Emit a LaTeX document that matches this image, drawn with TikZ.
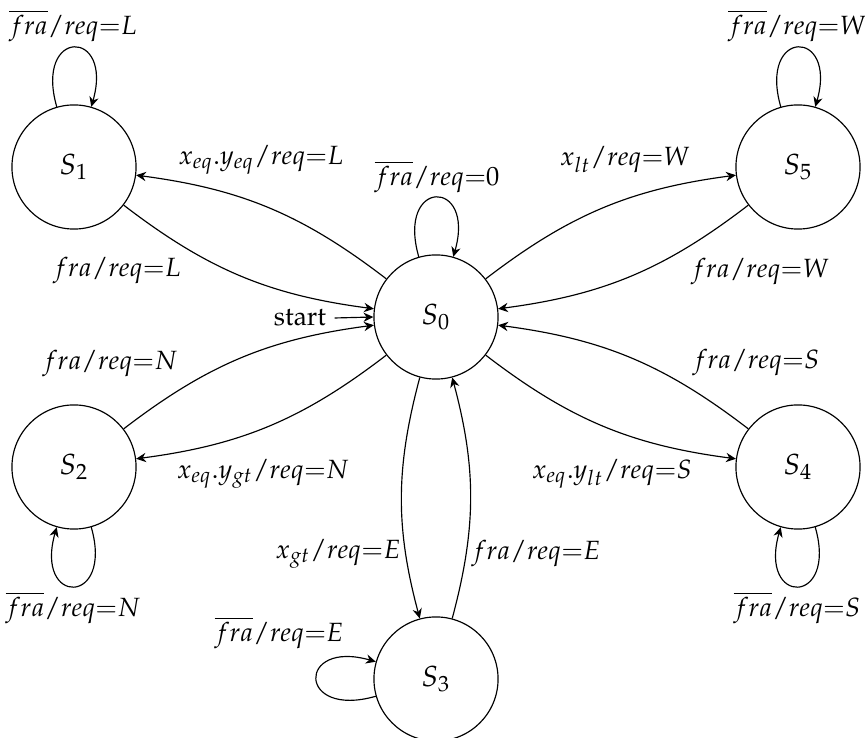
\documentclass[tikz,border=0pt]{standalone}
\usepackage[T1]{fontenc}
\usepackage{mathpazo}
\usetikzlibrary{arrows.meta}
\DeclareMathSizes{9.1}{9.1}{7.3}{6}
\begin{document}
\begin{tikzpicture}[x=0.3448pt,y=-0.3448pt,
  every node/.style={font=\fontsize{9.1pt}{11pt}\selectfont},
  >={Stealth[length=3.4pt,width=3.2pt,inset=1.1pt]},
  state/.style={draw,circle,minimum size=42.8pt,inner sep=0pt,line width=0.4pt,font=\fontsize{10pt}{12pt}\selectfont},
  lab/.style={inner sep=0pt},
  every edge/.style={draw,->,line width=0.4pt},
  myloop/.style={looseness=6.1,min distance=1pt}]
\useasboundingbox (0,0) rectangle (865,738);
\node[state] (S0) at (436,317) {$S_0$};
\node[state] (S1) at (74,167) {$S_1$};
\node[state] (S2) at (74,467) {$S_2$};
\node[state] (S3) at (436,679) {$S_3$};
\node[state] (S4) at (798,467) {$S_4$};
\node[state] (S5) at (798,167) {$S_5$};
\node[lab] (st) at (300,318) {start};
\draw[->] (st.east) ++(8,0) coordinate (stA) (stA) -- (S0.west);

\path (S0) edge[out=106,in=74,myloop] (S0)
      (S1) edge[out=106,in=74,myloop] (S1)
      (S5) edge[out=106,in=74,myloop] (S5)
      (S2) edge[out=286,in=254,myloop] (S2)
      (S4) edge[out=286,in=254,myloop] (S4)
      (S3) edge[out=196,in=164,myloop] (S3);

\path (S0) edge[bend right=15] (S1)
      (S1) edge[bend right=15] (S0)
      (S0) edge[bend left=15] (S2)
      (S2) edge[bend left=15] (S0)
      (S0) edge[bend left=15] (S5)
      (S5) edge[bend left=15] (S0)
      (S0) edge[bend right=15] (S4)
      (S4) edge[bend right=15] (S0)
      (S0) edge[bend right=15] (S3)
      (S3) edge[bend right=15] (S0);

\node[lab] (l00) at (437,177) {$\overline{fra}/req{=}0$};
\node[lab] (l11) at (73,26) {$\overline{fra}/req{=}L$};
\node[lab] (l55) at (797,26) {$\overline{fra}/req{=}W$};
\node[lab] (l22) at (73,608) {$\overline{fra}/req{=}N$};
\node[lab] (l44) at (797,608) {$\overline{fra}/req{=}S$};
\node[lab] (l33) at (279,633) {$\overline{fra}/req{=}E$};
\node[lab] (l01) at (261,160) {$x_{eq}.y_{eq}/req{=}L$};
\node[lab] (l10) at (117,271) {$fra/req{=}L$};
\node[lab] (l05) at (625,160) {$x_{lt}/req{=}W$};
\node[lab] (l50) at (760,272) {$fra/req{=}W$};
\node[lab] (l20) at (110,364) {$fra/req{=}N$};
\node[lab] (l02) at (263,474) {$x_{eq}.y_{gt}/req{=}N$};
\node[lab] (l40) at (756,363) {$fra/req{=}S$};
\node[lab] (l04) at (612,474) {$x_{eq}.y_{lt}/req{=}S$};
\node[lab] (l03) at (338,554) {$x_{gt}/req{=}E$};
\node[lab] (l30) at (536,554) {$fra/req{=}E$};
\end{tikzpicture}
\end{document}
